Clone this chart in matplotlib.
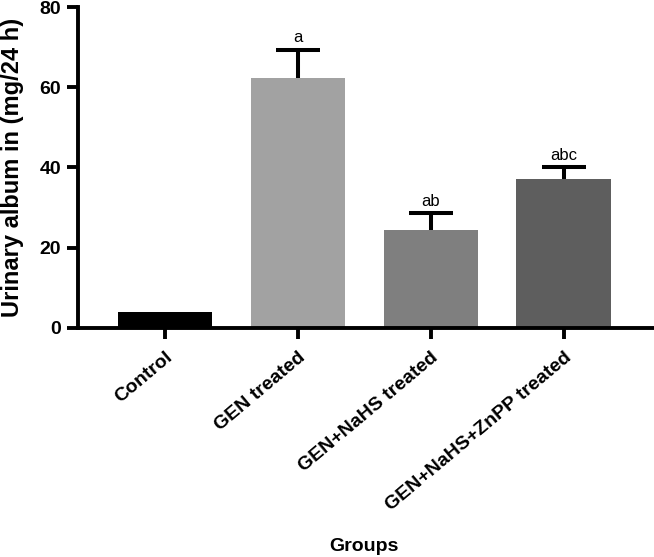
import matplotlib
matplotlib.use("Agg")
import matplotlib.pyplot as plt
import numpy as np

groups = ["Control", "GEN treated", "GEN+NaHS treated", "GEN+NaHS+ZnPP treated"]
means = [4.0, 62.3, 24.4, 37.2]
errors = [0.0, 7.1, 4.1, 3.0]
letters = ["", "a", "ab", "abc"]
colors = ["#000000", "#a2a2a2", "#7f7f7f", "#5e5e5e"]
yticks = [0, 20, 40, 60, 80]

plt.rcParams['font.family'] = ['Liberation Sans', 'DejaVu Sans']

fig = plt.figure(figsize=(6.54, 5.57), dpi=100)
ax = fig.add_axes([0.119, 0.4117, 0.881, 0.5757])

x = np.arange(len(groups))
ax.bar(x, means, width=0.71, color=colors, zorder=2)
eb = ax.errorbar(x[1:], means[1:], yerr=[np.zeros(3), errors[1:]], fmt='none',
                 ecolor='black', elinewidth=2.9, capsize=16, capthick=2.9, zorder=1)
caps = eb[1]
if len(caps) == 2:
    caps[0].set_visible(False)
for xi, m, e, t in zip(x, means, errors, letters):
    if t:
        ax.text(xi, m + e + 1.0, t, ha='center', va='bottom', fontsize=12)

ax.set_xlim(-0.655, 3.68)
ax.set_ylim(0, 80)
ax.set_yticks(yticks)
ax.set_yticklabels([str(v) for v in yticks], fontsize=14, fontweight='bold')
ax.set_xticks(x)
ax.set_xticklabels(groups, rotation=40, ha='right', rotation_mode='anchor',
                   fontsize=14, fontweight='bold')
for s in ['top', 'right']:
    ax.spines[s].set_visible(False)
for s in ['left', 'bottom']:
    ax.spines[s].set_linewidth(2.8)
ax.tick_params(axis='both', width=2.8, length=8, color='black')
ax.tick_params(axis='x', pad=7)
ax.tick_params(axis='y', pad=4)
ax.set_ylabel("Urinary album in (mg/24 h)", fontsize=17, fontweight='bold')
ax.yaxis.set_label_coords(-0.094, 0.5)
fig.text(0.557, 0.018, "Groups", ha='center', va='center', fontsize=14, fontweight='bold')

fig.savefig("out.png", dpi=100)
